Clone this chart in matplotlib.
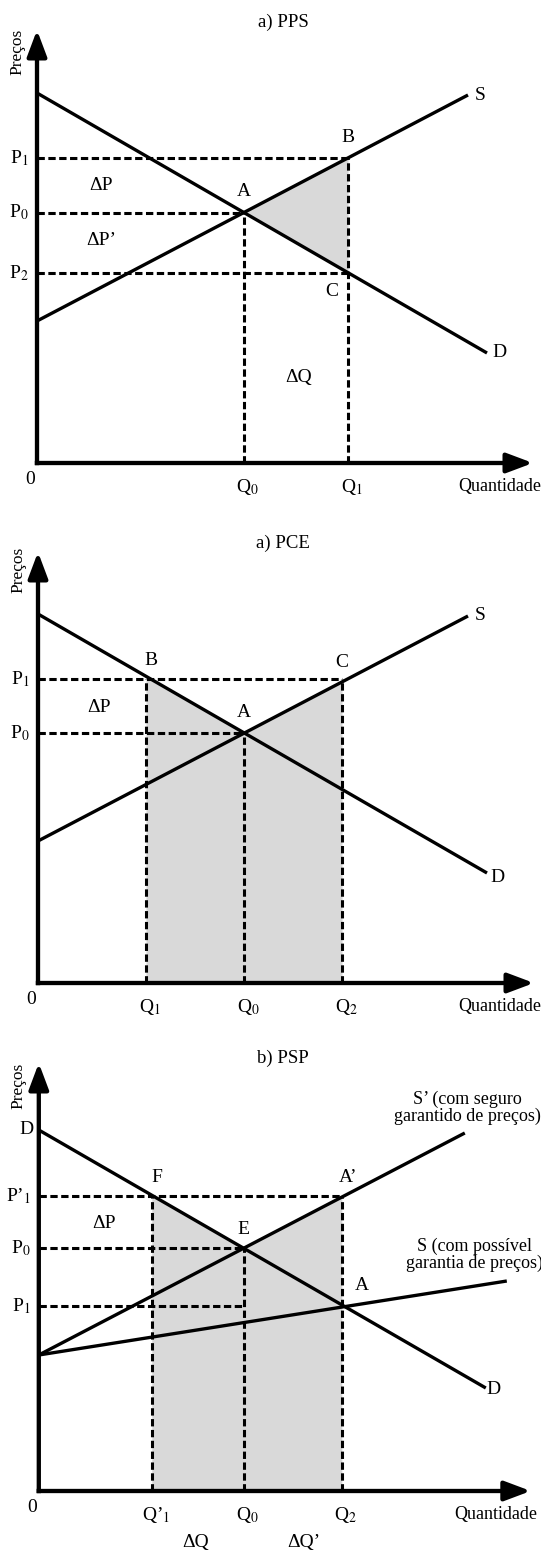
import numpy as np
import matplotlib.pyplot as plt

plt.rcParams['font.family'] = ['Liberation Serif', 'DejaVu Serif']
plt.rcParams['mathtext.fontset'] = 'stix'

W, H = 541, 1552

# a) PPS  (quantities / prices in chart units, origin at 0)
pps_dem_q = [0, 450]
pps_dem_p = [370, 110]
pps_sup_q = [0, 431]
pps_sup_p = [142, 368]
pps_q1 = 311

# a) PCE
pce_dem_q = [0, 449]
pce_dem_p = [369, 110]
pce_sup_q = [0, 430]
pce_sup_p = [142, 367]
pce_p1 = 304
pce_q1 = 108
pce_q2 = 304

# b) PSP
psp_dem_q = [0, 447]
psp_dem_p = [361, 103]
psp_sup2_q = [0, 426]      # S' (com seguro garantido de preços)
psp_sup2_p = [136, 358]
psp_sup_q = [0, 468]       # S (com possível garantia de preços)
psp_sup_p = [136, 210]
psp_q1 = 113
psp_q2 = 303
psp_p1_prime = 295
psp_p1 = 185

SHADE = '#d9d9d9'
CURVE = dict(color='k', lw=2.4, solid_capstyle='butt', zorder=3)
DASH = dict(color='k', lw=2.2, ls=(0, (2.4, 1.15)), zorder=2)
FS = 14      # point labels
FT = 13.5    # titles


def crossing(qa, pa, qb, pb):
    ma, ba = np.polyfit(qa, pa, 1)
    mb, bb = np.polyfit(qb, pb, 1)
    q = (bb - ba) / (ma - mb)
    return q, ma * q + ba


def make_panel(top, bottom, ox, oy):
    ax = fig.add_axes([0, 1 - bottom / H, 1, (bottom - top) / H])
    ax.set_xlim(-ox, W - ox)
    ax.set_ylim(oy - bottom, oy - top)
    ax.axis('off')
    return ax


def draw_axes(ax, x_tip, y_tip, title, title_xy, preco_y):
    arrow = dict(arrowstyle='-|>,head_length=0.8,head_width=0.3', lw=3.1,
                 color='k', mutation_scale=20, shrinkA=0, shrinkB=0,
                 capstyle='butt')
    ax.annotate('', xy=(x_tip, 0), xytext=(-2.2, 0), arrowprops=arrow, zorder=5)
    ax.annotate('', xy=(0, y_tip), xytext=(0, -2.2), arrowprops=arrow, zorder=5)
    ax.text(*title_xy, title, fontsize=FT, ha='center', va='center')
    ax.text(-20, preco_y, 'Preços', fontsize=12.5, rotation=90, ha='center', va='center')
    ax.text(-7, -17, '0', fontsize=FS, ha='center', va='center')


def p_label(ax, p, txt):
    ax.text(-8, p, txt, fontsize=FS, ha='right', va='center')


def q_label(ax, q, txt):
    ax.text(q + 4, -24, txt, fontsize=FS, ha='center', va='center')


def label(ax, x, y, txt):
    ax.text(x, y, txt, fontsize=FS, ha='center', va='center')


fig = plt.figure(figsize=(W / 100, H / 100), dpi=100)

# ---------------- a) PPS ----------------
ax = make_panel(0, 520, 37, 463)
q0, p0 = crossing(pps_dem_q, pps_dem_p, pps_sup_q, pps_sup_p)
p1 = np.interp(pps_q1, pps_sup_q, pps_sup_p)
p2 = np.interp(pps_q1, pps_dem_q, pps_dem_p)

qq = np.linspace(q0, pps_q1, 50)
ax.fill_between(qq, np.interp(qq, pps_dem_q, pps_dem_p),
                np.interp(qq, pps_sup_q, pps_sup_p), color=SHADE, lw=0, zorder=1)
ax.plot([0, pps_q1], [p1, p1], **DASH)
ax.plot([0, q0], [p0, p0], **DASH)
ax.plot([0, pps_q1], [p2, p2], **DASH)
ax.plot([q0, q0], [0, p0], **DASH)
ax.plot([pps_q1, pps_q1], [0, p1], **DASH)
ax.plot(pps_dem_q, pps_dem_p, **CURVE)
ax.plot(pps_sup_q, pps_sup_p, **CURVE)
draw_axes(ax, 496, 433, 'a) PPS', (246, 441), 411)

p_label(ax, p1, 'P$_1$')
p_label(ax, p0, 'P$_0$')
p_label(ax, p2, 'P$_2$')
q_label(ax, q0, 'Q$_0$')
q_label(ax, pps_q1, 'Q$_1$')
ax.text(463, -24, 'Quantidade', fontsize=13, ha='center', va='center')
label(ax, 64, 277, 'ΔP')
label(ax, 64, 222, 'ΔP’')
label(ax, 262, 85, 'ΔQ')
label(ax, q0, p0 + 21, 'A')
label(ax, pps_q1, p1 + 20, 'B')
label(ax, pps_q1 - 16, p2 - 19, 'C')
label(ax, pps_sup_q[1] + 12, pps_sup_p[1], 'S')
label(ax, pps_dem_q[1] + 12, pps_dem_p[1], 'D')

# ---------------- a) PCE ----------------
ax = make_panel(520, 1030, 38, 983)
q0, p0 = crossing(pce_dem_q, pce_dem_p, pce_sup_q, pce_sup_p)

qq = np.linspace(pce_q1, pce_q2, 100)
top = np.maximum(np.interp(qq, pce_dem_q, pce_dem_p), np.interp(qq, pce_sup_q, pce_sup_p))
ax.fill_between(qq, 0, top, color=SHADE, lw=0, zorder=1)
ax.plot([0, pce_q2], [pce_p1, pce_p1], **DASH)
ax.plot([0, q0], [p0, p0], **DASH)
ax.plot([pce_q1, pce_q1], [0, pce_p1], **DASH)
ax.plot([q0, q0], [0, p0], **DASH)
ax.plot([pce_q2, pce_q2], [0, pce_p1], **DASH)
ax.plot(pce_dem_q, pce_dem_p, **CURVE)
ax.plot(pce_sup_q, pce_sup_p, **CURVE)
draw_axes(ax, 496, 431, 'a) PCE', (245, 440), 413)

p_label(ax, pce_p1, 'P$_1$')
p_label(ax, p0, 'P$_0$')
q_label(ax, pce_q1, 'Q$_1$')
q_label(ax, q0, 'Q$_0$')
q_label(ax, pce_q2, 'Q$_2$')
ax.text(462, -24, 'Quantidade', fontsize=13, ha='center', va='center')
label(ax, 61, 275, 'ΔP')
label(ax, q0, p0 + 21, 'A')
label(ax, pce_q1 + 5, pce_p1 + 18, 'B')
label(ax, pce_q2, pce_p1 + 16, 'C')
label(ax, pce_sup_q[1] + 12, pce_sup_p[1], 'S')
label(ax, pce_dem_q[1] + 10, pce_dem_p[1] - 4, 'D')

# ---------------- b) PSP ----------------
ax = make_panel(1030, 1552, 38.8, 1491)
q0, p0 = crossing(psp_dem_q, psp_dem_p, psp_sup2_q, psp_sup2_p)

qq = np.linspace(psp_q1, psp_q2, 100)
top = np.maximum(np.interp(qq, psp_dem_q, psp_dem_p), np.interp(qq, psp_sup2_q, psp_sup2_p))
ax.fill_between(qq, 0, top, color=SHADE, lw=0, zorder=1)
ax.plot([0, psp_q2], [psp_p1_prime, psp_p1_prime], **DASH)
ax.plot([0, q0], [p0, p0], **DASH)
ax.plot([0, q0], [psp_p1, psp_p1], **DASH)
ax.plot([psp_q1, psp_q1], [0, psp_p1_prime], **DASH)
ax.plot([q0, q0], [0, p0], **DASH)
ax.plot([psp_q2, psp_q2], [0, psp_p1_prime], **DASH)
ax.plot(psp_dem_q, psp_dem_p, **CURVE)
ax.plot(psp_sup2_q, psp_sup2_p, **CURVE)
ax.plot(psp_sup_q, psp_sup_p, **CURVE)
draw_axes(ax, 492, 428, 'b) PSP', (244, 433), 405)

p_label(ax, psp_p1_prime, 'P’$_1$')
p_label(ax, p0, 'P$_0$')
p_label(ax, psp_p1, 'P$_1$')
q_label(ax, psp_q1, 'Q’$_1$')
q_label(ax, q0, 'Q$_0$')
q_label(ax, psp_q2, 'Q$_2$')
ax.text(457, -24, 'Quantidade', fontsize=13, ha='center', va='center')
label(ax, 65, 268, 'ΔP')
label(ax, 157, -52, 'ΔQ')
label(ax, 265, -52, 'ΔQ’')
label(ax, -12, psp_dem_p[0], 'D')
label(ax, psp_q1 + 5, psp_p1_prime + 18, 'F')
label(ax, psp_q2 + 6, psp_p1_prime + 19, 'A’')
label(ax, q0, p0 + 19, 'E')
label(ax, psp_q2 + 20, psp_p1 + 20, 'A')
label(ax, psp_dem_q[1] + 8, psp_dem_p[1] - 1, 'D')
ax.text(429, 383, 'S’ (com seguro\ngarantido de preços)', fontsize=13,
        ha='center', va='center', linespacing=1.0)
ax.text(436, 236, 'S (com possível\ngarantia de preços)', fontsize=13,
        ha='center', va='center', linespacing=1.0)

fig.savefig('out.png', dpi=100)
